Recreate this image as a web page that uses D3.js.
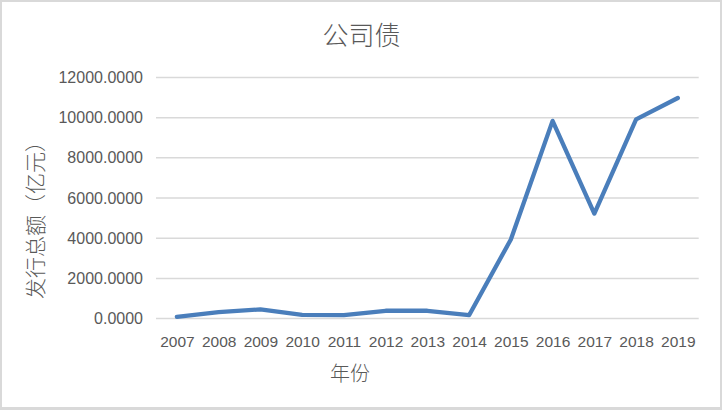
<!DOCTYPE html>
<html><head><meta charset="utf-8">
<script src="https://cdn.jsdelivr.net/npm/d3@7"></script>
<style>body{margin:0;background:#fff;}svg{display:block;}</style>
</head><body>
<script>
const years = ["2007","2008","2009","2010","2011","2012","2013","2014","2015","2016","2017","2018","2019"];
const values = [90, 320, 460, 190, 170, 390, 390, 170, 3940, 9840, 5230, 9920, 10980];
const yTicks = [0, 2000, 4000, 6000, 8000, 10000, 12000];
const title = "公司债";
const xTitle = "年份";
const yTitle = "发行总额（亿元）";

const W = 722, H = 410;
const svg = d3.select("body").append("svg").attr("width", W).attr("height", H);
svg.append("rect").attr("width", W).attr("height", H).attr("fill", "#d9d9d9");
svg.append("rect").attr("x", 2).attr("y", 2).attr("width", W - 4).attr("height", H - 5).attr("fill", "#fff");

const x = d3.scalePoint().domain(years).range([156, 698.7]).padding(0.5);
const y = d3.scaleLinear().domain([0, 12000]).range([318.6, 77.5]);
const textColor = "#595959";
const font = "'Liberation Sans', Arial, sans-serif";
const cjk = "'Noto Sans CJK SC', sans-serif";

// grid
svg.append("g").selectAll("line").data(yTicks).join("line")
  .attr("x1", 156).attr("x2", 698.7)
  .attr("y1", d => y(d)).attr("y2", d => y(d))
  .attr("stroke", "#d9d9d9").attr("stroke-width", 1.5);

// y axis labels
const yAxis = d3.axisLeft(y).tickValues(yTicks).tickSize(0).tickPadding(0)
  .tickFormat(d => d3.format(".4f")(d));
const ga = svg.append("g").attr("transform", "translate(143,0)").call(yAxis);
ga.select(".domain").remove();
ga.selectAll("text").attr("fill", textColor).style("font-family", font).style("font-size", "16px");

// x axis labels
const xAxis = d3.axisBottom(x).tickSize(0).tickPadding(0);
const gx = svg.append("g").attr("transform", "translate(0,336)").call(xAxis);
gx.select(".domain").remove();
gx.selectAll("text").attr("fill", textColor).style("font-family", font).style("font-size", "15.5px");

// line
const line = d3.line().x((d, i) => x(years[i])).y(d => y(d));
svg.append("path").datum(values).attr("d", line)
  .attr("fill", "none").attr("stroke", "#4a7ebb").attr("stroke-width", 4.3)
  .attr("stroke-linejoin", "round").attr("stroke-linecap", "round");

// titles
svg.append("text").attr("x", 361.5).attr("y", 45).attr("text-anchor", "middle")
  .attr("fill", textColor).style("font-family", cjk).style("font-size", "26px")
  .style("font-weight", "300").text(title);
svg.append("text").attr("x", 350).attr("y", 381).attr("text-anchor", "middle")
  .attr("fill", textColor).style("font-family", cjk).style("font-size", "20px")
  .style("font-weight", "300").text(xTitle);
svg.append("text").attr("transform", "translate(43,215) rotate(-90)").attr("text-anchor", "middle")
  .attr("fill", textColor).style("font-family", cjk).style("font-size", "21px")
  .style("font-weight", "300").text(yTitle);
</script>
</body></html>
